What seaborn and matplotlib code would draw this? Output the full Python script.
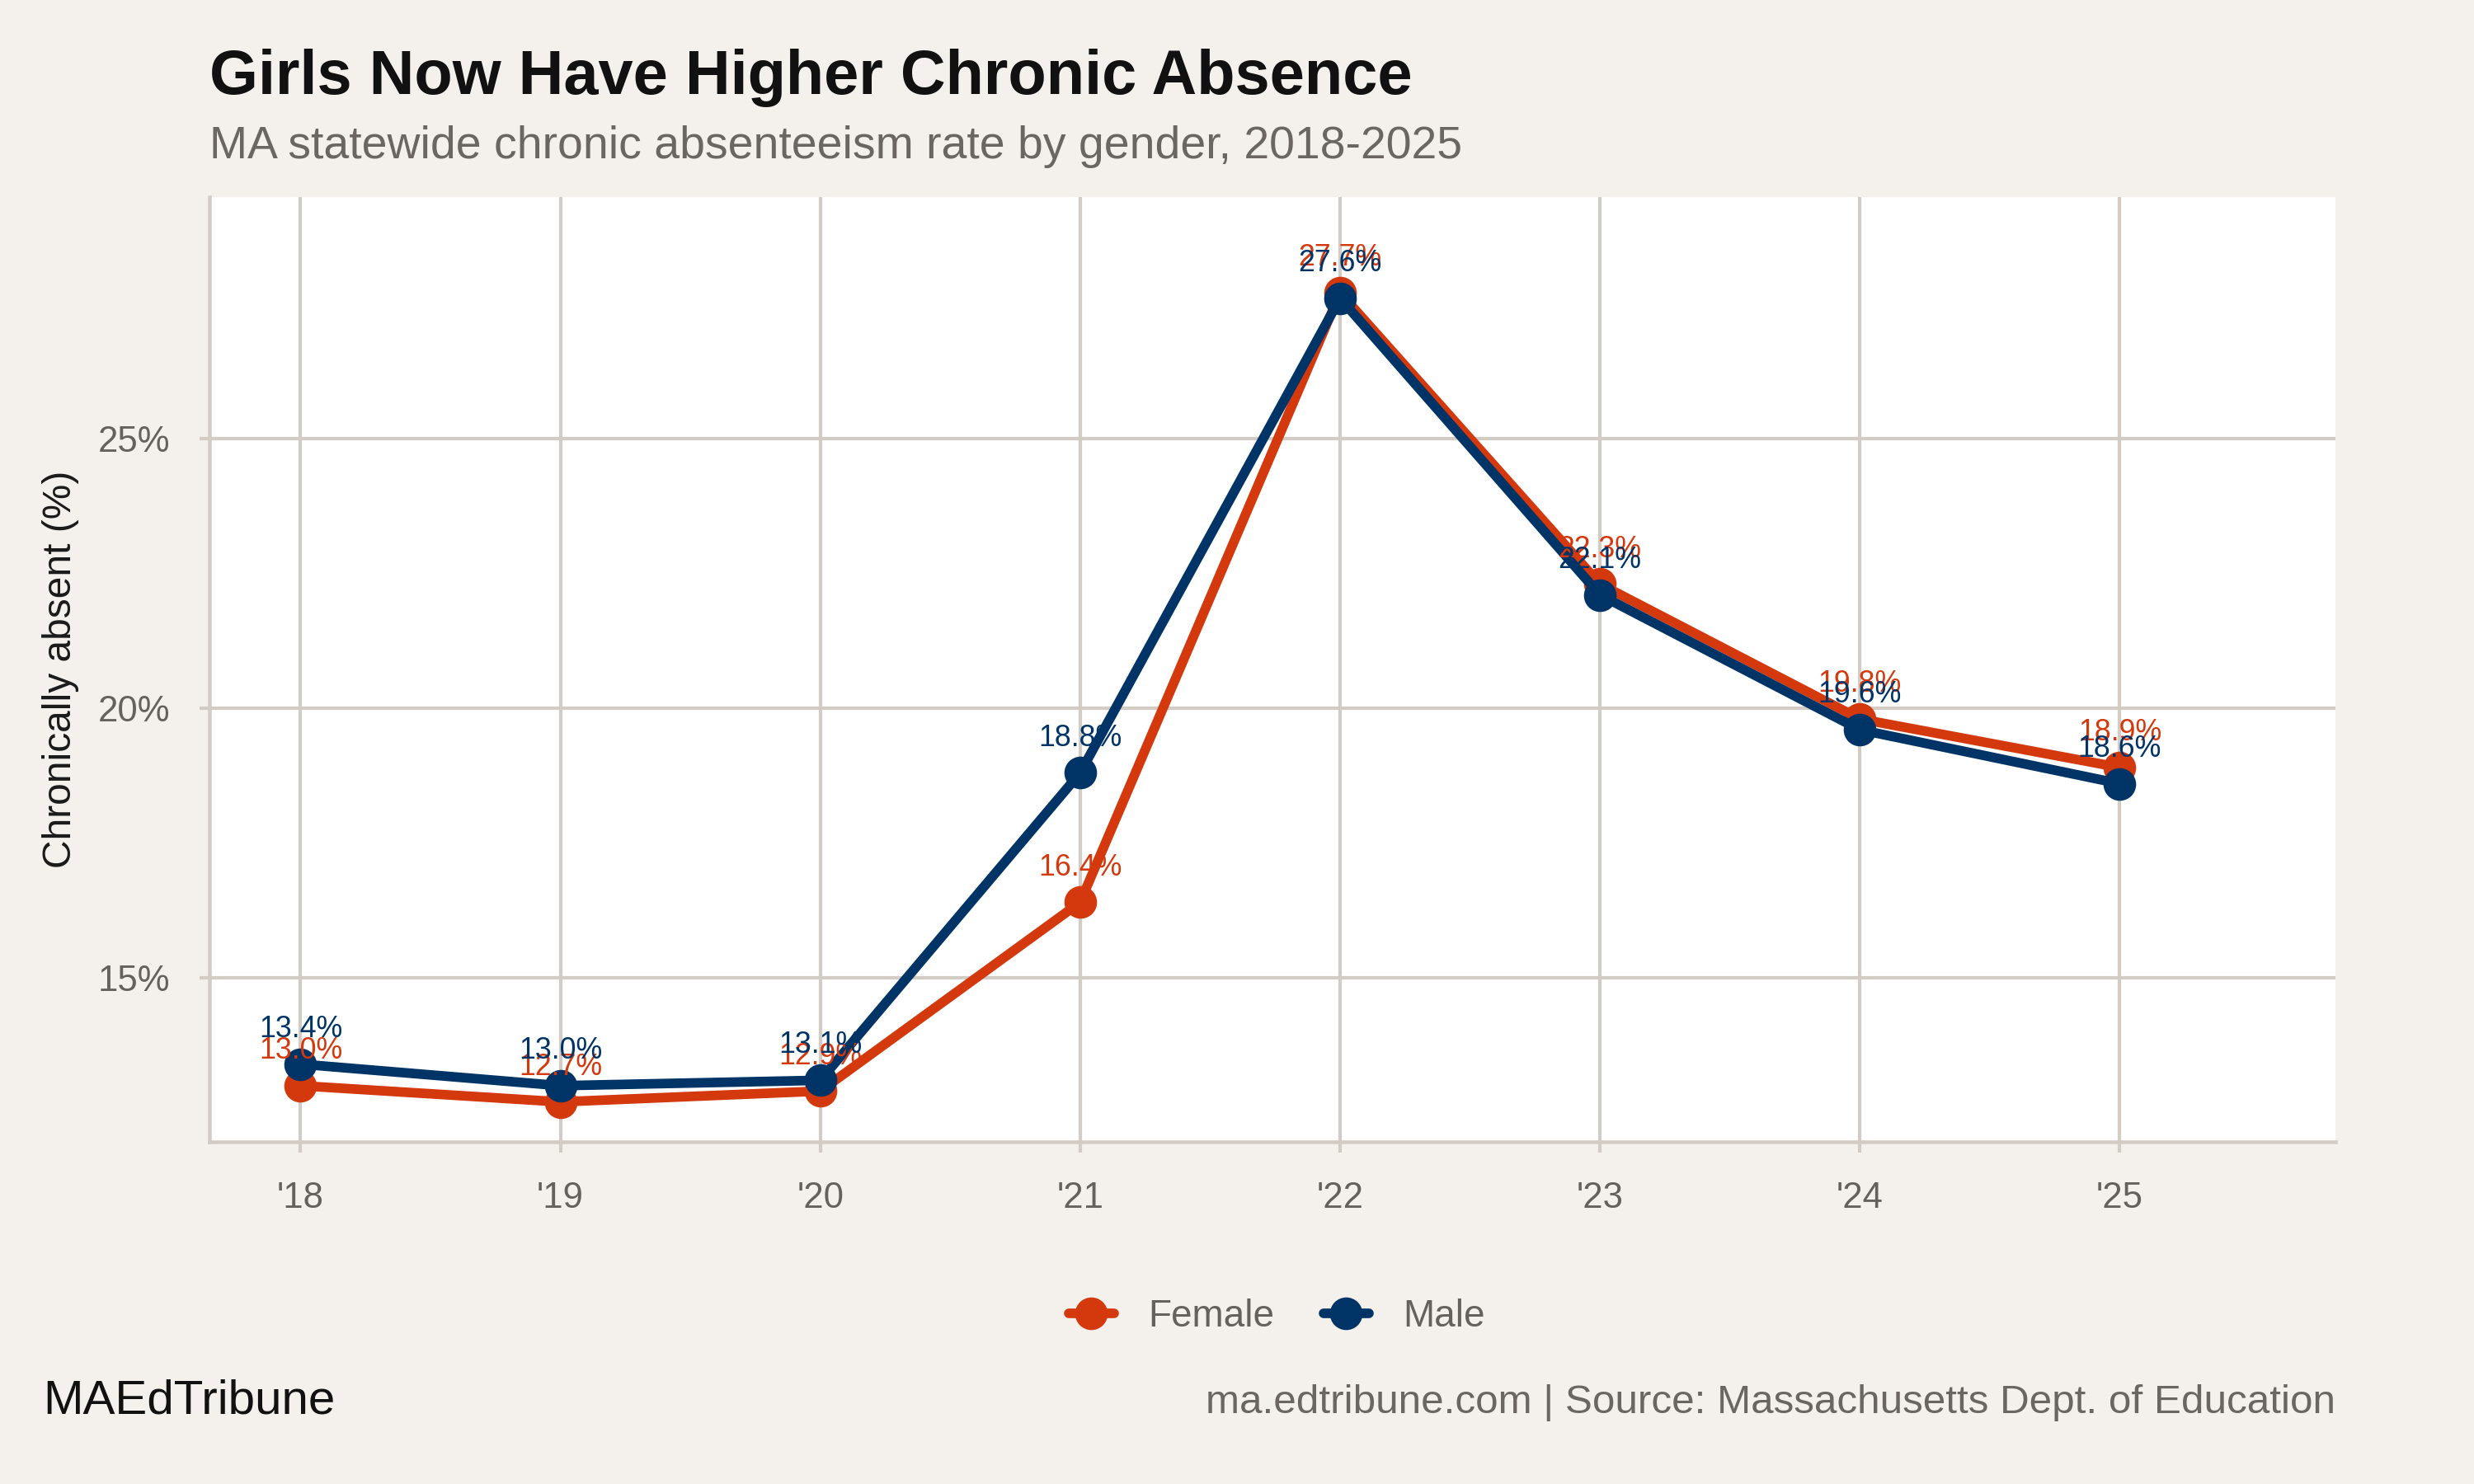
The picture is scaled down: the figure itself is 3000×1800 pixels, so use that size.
import matplotlib
matplotlib.use("Agg")
import matplotlib.pyplot as plt
import seaborn as sns
import pandas as pd

years = ["'18", "'19", "'20", "'21", "'22", "'23", "'24", "'25"]
female = [13.0, 12.7, 12.9, 16.4, 27.7, 22.3, 19.8, 18.9]
male = [13.4, 13.0, 13.1, 18.8, 27.6, 22.1, 19.6, 18.6]
genders = ["Female", "Male"]
yticks = [15, 20, 25]

BG = "#F4F1EC"
GRID = "#D2CCC4"
COLORS = {"Female": "#D4390E", "Male": "#003366"}

sns.set_theme(style="white")
plt.rcParams["font.family"] = ["Liberation Sans", "DejaVu Sans"]

rows = []
for g, vals in zip(genders, [female, male]):
    for i, v in enumerate(vals):
        rows.append({"xi": i, "rate": v, "gender": g})
df = pd.DataFrame(rows)

fig = plt.figure(figsize=(10, 6), dpi=300, facecolor=BG)
ax = fig.add_axes([0.0847, 0.2306, 0.944 - 0.0847, 0.867 - 0.2306])
ax.set_facecolor("white")

sns.lineplot(data=df, x="xi", y="rate", hue="gender", hue_order=genders,
             palette=COLORS, marker="o", markersize=9.5, markeredgewidth=0,
             linewidth=2.8, ax=ax, legend=True)

for g, vals in zip(genders, [female, male]):
    for i, v in enumerate(vals):
        ax.annotate(f"{v:.1f}%", (i, v), xytext=(0, 7.9), textcoords="offset points",
                    ha="center", va="baseline", fontsize=8.6, color=COLORS[g])

ax.set_xlim(-0.35, 7.83)
ax.set_ylim(11.96, 29.47)
ax.set_xticks(range(len(years)))
ax.set_xticklabels(years)
ax.set_yticks(yticks)
ax.set_yticklabels([f"{t}%" for t in yticks])
ax.grid(True, color=GRID, linewidth=1.0)
ax.set_axisbelow(True)
for s in ["top", "right"]:
    ax.spines[s].set_visible(False)
for s in ["left", "bottom"]:
    ax.spines[s].set_color(GRID)
    ax.spines[s].set_linewidth(1.1)
ax.tick_params(axis="both", length=3, width=1.0, color=GRID, labelcolor="#66615C",
               labelsize=10.5, pad=8.5)
ax.tick_params(axis="x", bottom=True)
ax.tick_params(axis="y", left=True)
ax.set_xlabel("")
ax.set_ylabel("")

fig.text(0.0245, 0.549, "Chronically absent (%)", rotation=90, ha="center", va="center",
         fontsize=11.5, color="#1A1A1A")

handles, labels = ax.get_legend_handles_labels()
ax.legend_.remove()
fig.legend(handles, labels, loc="center", bbox_to_anchor=(0.516, 0.1128), ncol=2,
           frameon=False, fontsize=11, labelcolor="#66615C", handlelength=1.2,
           handletextpad=0.9, columnspacing=1.3)

fig.text(0.0847, 0.9367, "Girls Now Have Higher Chronic Absence", fontsize=18.2,
         fontweight="bold", color="#111111", ha="left", va="baseline")
fig.text(0.0847, 0.8933, "MA statewide chronic absenteeism rate by gender, 2018-2025",
         fontsize=13.3, color="#6B6661", ha="left", va="baseline")
fig.text(0.0173, 0.0475, "MAEdTribune", fontsize=14, color="#111111", ha="left", va="baseline")
fig.text(0.944, 0.0475, "ma.edtribune.com | Source: Massachusetts Dept. of Education",
         fontsize=11.85, color="#6B6661", ha="right", va="baseline")

fig.savefig("out.png", dpi=300, facecolor=BG)
